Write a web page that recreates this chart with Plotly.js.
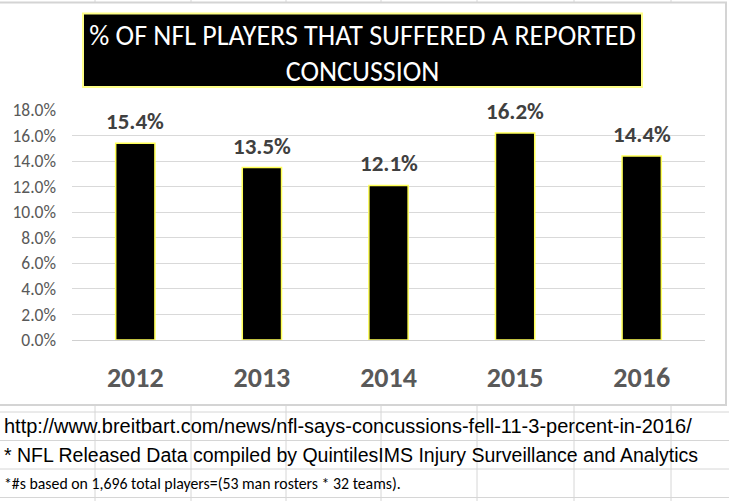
<!DOCTYPE html>
<html>
<head>
<meta charset="utf-8">
<script src="https://cdn.plot.ly/plotly-3.0.1.min.js"></script>
<style>html,body{margin:0;padding:0;background:#fff;}#chart{width:729px;height:501px;}</style>
</head>
<body>
<div id="chart"></div>
<script>
// ---- data ----
var years = ['2012', '2013', '2014', '2015', '2016'];
var concussionPct = [0.154, 0.135, 0.121, 0.162, 0.144];
var valueLabels = ['15.4%', '13.5%', '12.1%', '16.2%', '14.4%'];
var titleText = '% OF NFL PLAYERS THAT SUFFERED A REPORTED<br>CONCUSSION';
var noteLines = [
  'http://www.breitbart.com/news/nfl-says-concussions-fell-11-3-percent-in-2016/',
  '* NFL Released Data compiled by QuintilesIMS Injury Surveillance and Analytics',
  '*#s based on 1,696 total players=(53 man rosters * 32 teams).'
];

// ---- layout geometry (pixels) ----
var W = 729, H = 501;
var PL = 72, PR = 705, PT = 110, PB = 340;
function px(x) { return (x - PL) / (PR - PL); }
function py(y) { return (PB - y) / (PB - PT); }

var CAL = 'Carlito, Lato, "Open Sans", sans-serif';
var ARIAL = '"Liberation Sans", Arial, sans-serif';

var shapes = [];
// spreadsheet grid behind
var colLines = [95, 191, 286, 381, 477, 574, 671];
colLines.forEach(function (x) {
  shapes.push({type: 'line', layer: 'below', xref: 'paper', yref: 'paper',
    x0: px(x), x1: px(x), y0: py(0), y1: py(H), line: {color: '#d6d6d6', width: 1}});
});
var rowLines = [412, 440.5, 469, 497.5];
rowLines.forEach(function (y) {
  shapes.push({type: 'line', layer: 'below', xref: 'paper', yref: 'paper',
    x0: px(0), x1: px(W), y0: py(y), y1: py(y), line: {color: '#d6d6d6', width: 1}});
});
// chart area
shapes.push({type: 'rect', layer: 'below', xref: 'paper', yref: 'paper',
  x0: px(-3), x1: px(726), y0: py(405), y1: py(2.5),
  fillcolor: '#ffffff', line: {color: '#d4d4d4', width: 2}});
// title box
shapes.push({type: 'rect', layer: 'below', xref: 'paper', yref: 'paper',
  x0: px(83), x1: px(642), y0: py(87), y1: py(13.5),
  fillcolor: '#000000', line: {color: '#ffff88', width: 2}});

var annotations = [];
for (var i = 0; i < years.length; i++) {
  annotations.push({x: i, y: concussionPct[i], xref: 'x', yref: 'y',
    text: valueLabels[i], showarrow: false, yanchor: 'bottom', yshift: 6,
    font: {family: CAL, size: 23, color: '#404040', weight: 'bold'}});
}
var noteY = [426, 455, 483];
var noteFonts = [
  {family: ARIAL, size: 20, color: '#000000'},
  {family: ARIAL, size: 19.5, color: '#000000'},
  {family: CAL, size: 15.8, color: '#000000'}
];
for (var j = 0; j < noteLines.length; j++) {
  annotations.push({x: px(2), y: py(noteY[j]), xref: 'paper', yref: 'paper',
    xanchor: 'left', yanchor: 'middle', text: noteLines[j], showarrow: false,
    font: noteFonts[j]});
}

var trace = {
  type: 'bar', x: years, y: concussionPct,
  marker: {color: '#000000', line: {color: '#ffff55', width: 1.5}},
  hoverinfo: 'none'
};

var layout = {
  width: W, height: H,
  margin: {l: PL, r: W - PR, t: PT, b: H - PB, pad: 0},
  paper_bgcolor: '#ffffff', plot_bgcolor: 'rgba(0,0,0,0)',
  showlegend: false, bargap: 0.69,
  title: {text: titleText, font: {family: CAL, size: 28, color: '#ffffff'},
    x: 362.5 / W, xanchor: 'center', xref: 'container',
    y: 1 - 45 / H, yanchor: 'middle', yref: 'container'},
  xaxis: {type: 'category', range: [-0.5, years.length - 0.5], showgrid: false,
    zeroline: false, showline: true,
    linecolor: '#d0d0d0', linewidth: 1, ticks: '', ticklabelstandoff: 12,
    tickfont: {family: CAL, size: 28, color: '#595959', weight: 'bold'}},
  yaxis: {range: [0, 0.18], dtick: 0.02, tickformat: '.1%', showgrid: true,
    gridcolor: '#d9d9d9', gridwidth: 1, zeroline: false, showline: false,
    ticks: '', ticklabelstandoff: 15,
    tickfont: {family: CAL, size: 17.5, color: '#595959'}},
  shapes: shapes, annotations: annotations
};

Plotly.newPlot('chart', [trace], layout, {staticPlot: true, displayModeBar: false});
</script>
</body>
</html>
